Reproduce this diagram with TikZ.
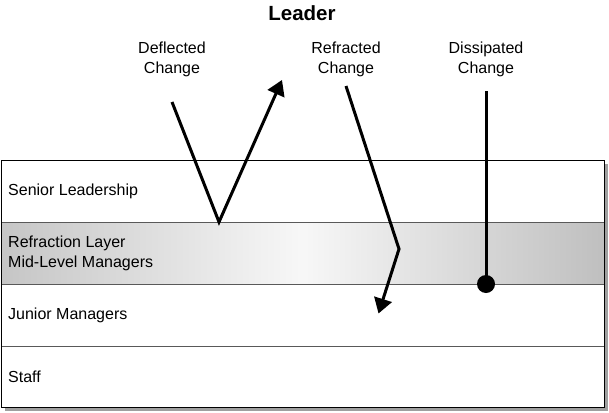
\documentclass[tikz,border=0pt]{standalone}
\usepackage{fontspec}
\setmainfont{Liberation Sans}
\usetikzlibrary{arrows.meta}

\tikzset{
	change/.style={line width=3pt, -{Triangle[length=15pt, width=18pt]}},
	layerlabel/.style={anchor=west, align=left, inner sep=0pt},
	rowline/.style={draw=gray!70!black, line width=1pt}
}

\begin{document}
\begin{tikzpicture}[x=1pt, y=-1pt, font=\fontsize{16}{20}\selectfont]
			\useasboundingbox (0, 0) rectangle (609, 412);
			% layers
			\coordinate (boxtl) at (1, 160);
			\coordinate (boxbr) at (604, 407);
			\fill[gray!75] (5, 164) rectangle (608, 411);
			\fill[white] (boxtl) rectangle (boxbr);
			\shade[left color=gray!45, right color=gray!50, middle color=gray!6] (1, 222) rectangle (604, 284);
			\draw[rowline] (1, 222) -- (604, 222) (1, 284) -- (604, 284) (1, 346) -- (604, 346);
			\draw[line width=1pt] (boxtl) rectangle (boxbr);
			\node (senior) at (8, 191) [layerlabel] {Senior Leadership};
			\node (refraction) at (8, 253) [layerlabel] {Refraction Layer\\Mid-Level Managers};
			\node (junior) at (8, 315) [layerlabel] {Junior Managers};
			\node (staff) at (8, 377) [layerlabel] {Staff};
			% titles
			\node (leader) at (302, 13) [font=\fontsize{20.5}{24}\selectfont\bfseries] {Leader};
			\node (deflected) at (172, 59) [align=center] {Deflected\\Change};
			\node (refracted) at (346, 59) [align=center] {Refracted\\Change};
			\node (dissipated) at (486, 59) [align=center] {Dissipated\\Change};
			% changes
			\coordinate (defl1) at (172, 102);
			\coordinate (defl2) at (219, 222);
			\coordinate (defl3) at (282, 80);
			\coordinate (refr1) at (346, 86);
			\coordinate (refr2) at (399, 249);
			\coordinate (refr3) at (378.5, 313.5);
			\coordinate (diss1) at (486, 91);
			\node (dissend) at (486, 284) [shape=circle, fill=black, inner sep=0pt, minimum size=18pt] {};
			\draw[change] (defl1) -- (defl2) -- (defl3);
			\draw[change] (refr1) -- (refr2) -- (refr3);
			\draw[line width=3pt] (diss1) -- (dissend.center);
		\end{tikzpicture}
\end{document}
